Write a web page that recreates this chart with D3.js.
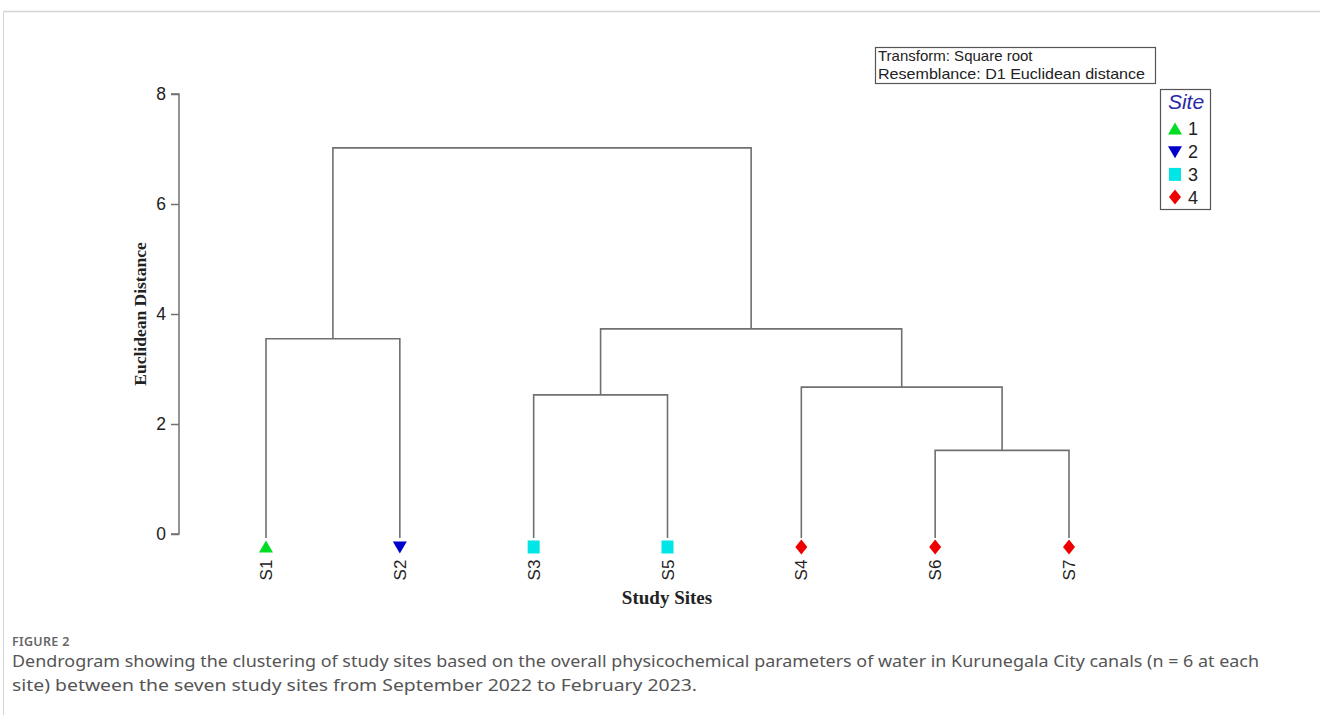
<!DOCTYPE html>
<meta charset="utf-8">
<script src="https://d3js.org/d3.v7.min.js"></script>
<style>
  body { margin: 0; background: #fff; }
</style>
<svg id="dendro"></svg>

<script>

// leaves in the order they are drawn, and the site group of each
const leaves = ["S1", "S2", "S3", "S5", "S4", "S6", "S7"];
const leafSite = [1, 2, 3, 3, 4, 4, 4];

// merges: the two children and the joining height (Euclidean distance)
const mergeIds    = ["A", "B", "C", "D", "E", "F"];
const mergeLeft   = ["S1", "S3", "S6", "S4", "B", "A"];
const mergeRight  = ["S2", "S5", "S7", "C", "D", "E"];
const mergeHeight = [3.55, 2.53, 1.52, 2.67, 3.73, 7.02];

const yTicks = [0, 2, 4, 6, 8];
const siteKeys = [1, 2, 3, 4];
const siteColors = ["#00dd22", "#0000cc", "#00e5e5", "#ee0000"];
const siteSymbols = ["up", "down", "square", "diamond"];

const width = 1320, height = 715;

let svg = d3.select("#dendro")
    .attr("width", width)
    .attr("height", height);

// thin page frame
svg.append("line").attr("x1", 3.5).attr("x2", width).attr("y1", 11.5).attr("y2", 11.5)
    .style("stroke", "#d4d4d4").style("stroke-width", 1.5);
svg.append("line").attr("x1", 3.5).attr("x2", 3.5).attr("y1", 11.5).attr("y2", height)
    .style("stroke", "#d4d4d4").style("stroke-width", 1);

// scales
let x = d3.scalePoint()
    .domain(leaves)
    .range([266, 1069]);

let y = d3.scaleLinear()
    .domain([0, 8])
    .range([534, 94]);

// y axis
let yAxis = svg.append("g")
    .attr("transform", "translate(179,0)")
    .call(d3.axisLeft(y).tickValues(yTicks).tickSize(8).tickPadding(5));
yAxis.attr("font-size", null).attr("font-family", null);
yAxis.select(".domain").style("stroke", "#707070").style("stroke-width", 1.5)
    .attr("d", "M-8," + y(8) + "H0V" + y(0) + "H-8");
yAxis.selectAll(".tick line").style("stroke", "#707070").style("stroke-width", 1.5);
yAxis.selectAll(".tick text")
    .attr("font-family", "Liberation Sans, Arial, sans-serif")
    .attr("font-size", "17.5px")
    .attr("fill", "#222");

svg.append("text")
    .attr("transform", "translate(146," + y(4) + ") rotate(-90)")
    .attr("text-anchor", "middle")
    .style("font-family", "Liberation Serif, Times New Roman, serif")
    .style("font-weight", "bold")
    .style("font-size", "17.5px")
    .style("fill", "#222")
    .text("Euclidean Distance");

// node positions
let pos = {};
leaves.forEach(function(l) { pos[l] = { x: x(l), h: 0 }; });
mergeIds.forEach(function(id, i) {
    let a = pos[mergeLeft[i]], b = pos[mergeRight[i]];
    pos[id] = { x: (a.x + b.x) / 2, h: mergeHeight[i] };
});

// draw the dendrogram links
let links = svg.append("g");
mergeIds.forEach(function(id, i) {
    let a = pos[mergeLeft[i]], b = pos[mergeRight[i]], hy = y(mergeHeight[i]);
    let ya = a.h === 0 ? 538 : y(a.h);
    let yb = b.h === 0 ? 538 : y(b.h);
    links.append("path")
        .attr("d", "M" + a.x + "," + ya + "V" + hy + "H" + b.x + "V" + yb)
        .style("fill", "none")
        .style("stroke", "#707070")
        .style("stroke-width", 1.6);
});

// marker shapes
function symbolPath(kind) {
    if (kind === "up") return "M0,-6.5L7,5.5L-7,5.5Z";
    if (kind === "down") return "M0,6.5L7,-5.5L-7,-5.5Z";
    if (kind === "square") return "M-6,-6.5H6V6.5H-6Z";
    return "M0,-7.5L6,0L0,7.5L-6,0Z";
}

// leaf markers and labels
let leafG = svg.append("g")
    .selectAll("g")
    .data(leaves)
    .enter()
    .append("g")
      .attr("transform", function(d) { return "translate(" + x(d) + ",0)"; });

leafG.append("path")
    .attr("transform", "translate(0,547)")
    .attr("d", function(d, i) { return symbolPath(siteSymbols[leafSite[i] - 1]); })
    .style("fill", function(d, i) { return siteColors[leafSite[i] - 1]; });

leafG.append("text")
    .attr("transform", "translate(6,570) rotate(-90)")
    .attr("text-anchor", "middle")
    .style("font-family", "Liberation Sans, Arial, sans-serif")
    .style("font-size", "17px")
    .style("fill", "#222")
    .text(function(d) { return d; });

svg.append("text")
    .attr("x", 667)
    .attr("y", 604)
    .attr("text-anchor", "middle")
    .style("font-family", "Liberation Serif, Times New Roman, serif")
    .style("font-weight", "bold")
    .style("font-size", "19px")
    .style("fill", "#222")
    .text("Study Sites");

// transform / resemblance box
svg.append("rect")
    .attr("x", 875.5).attr("y", 47.5).attr("width", 280).attr("height", 36)
    .style("fill", "#fff").style("stroke", "#555").style("stroke-width", 1.2);
svg.append("text").attr("x", 878).attr("y", 61)
    .style("font-family", "Liberation Sans, Arial, sans-serif").style("font-size", "15px").style("fill", "#222")
    .text("Transform: Square root");
svg.append("text").attr("x", 878).attr("y", 79)
    .style("font-family", "Liberation Sans, Arial, sans-serif").style("font-size", "15px").style("fill", "#222")
    .attr("textLength", 267).attr("lengthAdjust", "spacingAndGlyphs")
    .text("Resemblance: D1 Euclidean distance");

// site legend
svg.append("rect")
    .attr("x", 1160.5).attr("y", 89.5).attr("width", 50).attr("height", 120)
    .style("fill", "#fff").style("stroke", "#555").style("stroke-width", 1.2);
svg.append("text").attr("x", 1186).attr("y", 109).attr("text-anchor", "middle")
    .style("font-family", "Liberation Sans, Arial, sans-serif").style("font-size", "21px")
    .style("font-style", "italic").style("fill", "#2a2aa8")
    .text("Site");

let legItems = svg.append("g")
    .selectAll("g")
    .data(siteKeys)
    .enter()
    .append("g")
      .attr("transform", function(d, i) { return "translate(1175," + (129 + i * 22.7) + ")"; });
legItems.append("path")
    .attr("d", function(d, i) { return symbolPath(siteSymbols[i]); })
    .style("fill", function(d, i) { return siteColors[i]; });
legItems.append("text")
    .attr("x", 13).attr("dy", "0.36em")
    .style("font-family", "Liberation Sans, Arial, sans-serif").style("font-size", "18px").style("fill", "#222")
    .text(function(d) { return d; });

// caption
svg.append("text").attr("x", 12).attr("y", 646)
    .style("font-family", "Noto Sans, sans-serif").style("font-size", "12.5px")
    .style("font-weight", "600").style("fill", "#666").style("letter-spacing", "0.3px")
    .text("FIGURE 2");
svg.append("text").attr("x", 12).attr("y", 667)
    .style("font-family", "Noto Sans, sans-serif").style("font-size", "17px").style("fill", "#555")
    .attr("textLength", 1247).attr("lengthAdjust", "spacingAndGlyphs")
    .text("Dendrogram showing the clustering of study sites based on the overall physicochemical parameters of water in Kurunegala City canals (n = 6 at each");
svg.append("text").attr("x", 12).attr("y", 691)
    .style("font-family", "Noto Sans, sans-serif").style("font-size", "17px").style("fill", "#555")
    .attr("textLength", 685).attr("lengthAdjust", "spacingAndGlyphs")
    .text("site) between the seven study sites from September 2022 to February 2023.");

</script>
